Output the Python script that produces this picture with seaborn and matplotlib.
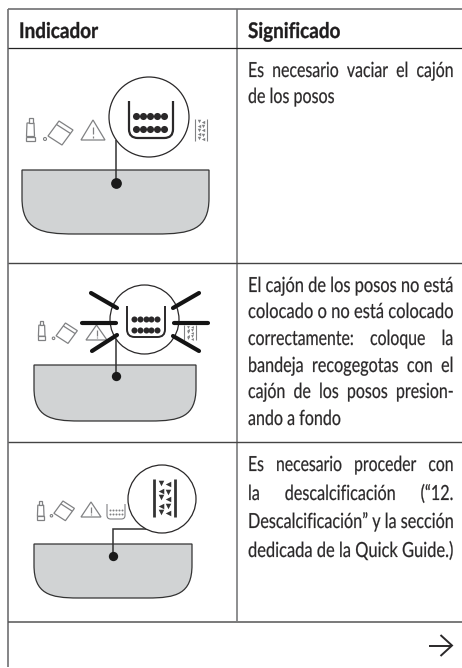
import matplotlib
matplotlib.use('Agg')
import matplotlib.pyplot as plt
import seaborn as sns
from matplotlib.patches import Circle, PathPatch, Polygon
from matplotlib.path import Path
from matplotlib.patheffects import AbstractPathEffect
from matplotlib.text import Text
from matplotlib.transforms import Affine2D, Bbox

# table text
headers = ['Indicador', 'Significado']
header_widths = [79, 92]
row1_lines = ['Es necesario vaciar el cajón', 'de los posos']
row2_lines = ['El cajón de los posos no está', 'colocado o no está colocado',
              'correctamente: coloque la', 'bandeja recogegotas con el',
              'cajón de los posos presion-', 'ando a fondo']
row3_lines = ['Es necesario proceder con', 'la descalcificación (“12.',
              'Descalcificación” y la sección', 'dedicada de la Quick Guide.)']
last_lines = ['de los posos', 'ando a fondo']

row1_base = [77, 103]
row2_base = [292, 318, 345, 372, 398, 425]
row3_base = [471, 500, 528, 557]

DARK = '#2a2829'
LINE = '#6f7072'
ICON = '#808183'
TRAY = '#d1d3d4'
BODY_SIZE = 15
BODY_SQUEEZE = 0.77

sns.set_theme(style='white')
plt.rcParams['font.family'] = ['Lato', 'DejaVu Sans']

fig = plt.figure(figsize=(4.62, 6.68), dpi=100)
ax = fig.add_axes([0, 0, 1, 1])
ax.set_xlim(0, 462)
ax.set_ylim(668, 0)
renderer = fig.canvas.get_renderer()


# no condensed font is installed, so narrow the glyphs when they are drawn
class Squeeze(AbstractPathEffect):
    def __init__(self, sx, x0, stroke):
        super().__init__()
        self.sx = sx
        self.x0 = x0
        self.stroke = stroke

    def draw_path(self, renderer, gc, tpath, affine, rgbFace=None):
        t = affine + Affine2D().translate(-self.x0, 0).scale(self.sx, 1).translate(self.x0, 0)
        gc0 = renderer.new_gc()
        gc0.copy_properties(gc)
        gc0.set_linewidth(self.stroke)
        gc0.set_foreground(rgbFace)
        renderer.draw_path(gc0, tpath, t, rgbFace)
        gc0.restore()


class NarrowText(Text):
    def __init__(self, x, y, s, sx, stroke=0.15, **kw):
        super().__init__(x, y, s, **kw)
        self.sx = sx
        self.set_path_effects([Squeeze(sx, x, stroke)])

    def get_window_extent(self, renderer=None, dpi=None):
        b = super().get_window_extent(renderer, dpi)
        x0 = self.get_position()[0]
        return Bbox([[x0 + (b.x0 - x0) * self.sx, b.y0], [x0 + (b.x1 - x0) * self.sx, b.y1]])


def narrow(x, y, s, sx, ha='left', **kw):
    t = NarrowText(x, y, s, sx, va='baseline', ha=ha, **kw)
    ax.add_artist(t)
    return t


def natural_width(s, **kw):
    t = ax.text(100, 100, s, **kw)
    w = t.get_window_extent(renderer).width
    t.remove()
    return w


def put_lines(lines, bases, left=248, right=454):
    for line, y in zip(lines, bases):
        if line in last_lines:
            narrow(left, y, line, BODY_SQUEEZE, fontsize=BODY_SIZE, color=DARK)
            continue
        # justify: widen the word gaps, then fit the line exactly to the column
        words = line.split(' ')
        best = None
        for n in range(1, 25):
            s = (' ' * n).join(words)
            sx = (right - left) / natural_width(s, fontsize=BODY_SIZE)
            if best is None or abs(sx - BODY_SQUEEZE) < abs(best[1] - BODY_SQUEEZE):
                best = (s, sx)
        narrow(right, y, best[0], best[1], ha='right', fontsize=BODY_SIZE, color=DARK)


def seg(xs, ys, color=DARK, lw=1.0, cap='butt', z=3):
    ax.plot(xs, ys, color=color, lw=lw, solid_capstyle=cap, solid_joinstyle='miter', zorder=z)


def tray(left, right, top, bottom, bend):
    w = right - left
    verts = [(left, top), (left, bend),
             (left, bottom - 4), (left + 0.1 * w, bottom), (left + 0.28 * w, bottom),
             (right - 0.28 * w, bottom),
             (right - 0.1 * w, bottom), (right, bottom - 4), (right, bend),
             (right, top), (left, top)]
    codes = [Path.MOVETO, Path.LINETO, Path.CURVE4, Path.CURVE4, Path.CURVE4, Path.LINETO,
             Path.CURVE4, Path.CURVE4, Path.CURVE4, Path.LINETO, Path.CLOSEPOLY]
    ax.add_patch(PathPatch(Path(verts, codes), fc=TRAY, ec='#333333', lw=0.9, zorder=2))


def tube(x, y, h):
    k = h / 23
    body = [(x + 1 * k, y + 5 * k), (x + 8 * k, y + 5 * k), (x + 8.5 * k, y + 18.5 * k), (x + 0.5 * k, y + 18.5 * k)]
    cap = [(x + 2.5 * k, y), (x + 6.5 * k, y), (x + 6.5 * k, y + 5 * k), (x + 2.5 * k, y + 5 * k)]
    foot = [(x, y + 18.5 * k), (x + 9 * k, y + 18.5 * k), (x + 9 * k, y + h), (x, y + h)]
    for p in (body, cap, foot):
        ax.add_patch(Polygon(p, closed=True, fc='white', ec=ICON, lw=0.9, zorder=3))


def pitcher(x, y, k):
    box = [(6, 15), (17, 0), (31, 9), (20, 24)]
    ax.add_patch(Polygon([(x + k * a, y + k * b) for a, b in box], closed=True,
                         fc='white', ec=ICON, lw=0.9, zorder=3))
    seg([x + k * 14.5, x + k * 28.5], [y + k * 3.5, y + k * 12.5], color=ICON, lw=0.9)
    ax.add_patch(Circle((x + k * 3, y + k * 18), 1.5 * k, fc='white', ec=ICON, lw=0.8, zorder=3))


def warning(x, y, w, h):
    ax.add_patch(Polygon([(x + w / 2, y), (x + w, y + h), (x, y + h)], closed=True,
                         fc='white', ec=ICON, lw=0.9, zorder=3))
    seg([x + w / 2, x + w / 2], [y + 0.35 * h, y + 0.72 * h], color=ICON, lw=0.9, z=4)
    seg([x + w / 2, x + w / 2], [y + 0.8 * h, y + 0.88 * h], color=ICON, lw=0.9, z=4)


def bin_icon(left, right, top, bottom, rows, first, last, lw, size, color=DARK):
    r = 0.2 * (right - left)
    verts = [(left, top), (left, bottom - r), (left, bottom), (left + r, bottom),
             (right - r, bottom), (right, bottom), (right, bottom - r), (right, top)]
    codes = [Path.MOVETO, Path.LINETO, Path.CURVE3, Path.CURVE3, Path.LINETO,
             Path.CURVE3, Path.CURVE3, Path.LINETO]
    ax.add_patch(PathPatch(Path(verts, codes), fc='none', ec=color, lw=lw, zorder=5))
    step = (last - first) / 4
    xs = [first + i * step for i in range(5) for _ in rows]
    ys = [rv for _ in range(5) for rv in rows]
    sns.scatterplot(x=xs, y=ys, s=size, color=color, linewidth=0, legend=False, ax=ax, zorder=5)


def scale_icon(left, right, top, bottom, lw, size, color):
    seg([left, left], [top, bottom], color=color, lw=lw, z=5)
    seg([right, right], [top, bottom], color=color, lw=lw, z=5)
    w = right - left
    h = bottom - top
    for i in range(5):
        yy = top + h * (0.1 + 0.19 * i)
        sns.scatterplot(x=[left + 0.36 * w], y=[yy + (i % 2) * 0.03 * h], s=size, marker='v' if i % 2 == 0 else '<',
                        color=color, linewidth=0, legend=False, ax=ax, zorder=5)
        sns.scatterplot(x=[left + 0.68 * w], y=[yy + 0.04 * h], s=size, marker='<' if i % 2 == 0 else 'v',
                        color=color, linewidth=0, legend=False, ax=ax, zorder=5)


def callout(x, y, r):
    ax.add_patch(Circle((x, y), r, fc='white', ec=DARK, lw=0.9, zorder=4))


def dot(x, y, s=55):
    sns.scatterplot(x=[x], y=[y], s=s, color='#1a1a1a', linewidth=0, legend=False, ax=ax, zorder=6)


# grid of the table
seg([8, 8], [9, 667], color=LINE, lw=1.2)
seg([237, 237], [9, 621], color=LINE, lw=1.1)
seg([8, 462], [9, 9], color=LINE, lw=1.2)
seg([8, 462], [48, 48], color='#222222', lw=0.9)
seg([8, 462], [263, 263], color='#444444', lw=1.0)
seg([8, 462], [442, 442], color='#444444', lw=1.0)
seg([8, 462], [621.5, 621.5], color='#555555', lw=1.1)

# headers
for x, label, target in zip([19, 248], headers, header_widths):
    sx = target / natural_width(label, fontsize=15.5, fontweight='bold')
    narrow(x, 38, label, sx, stroke=0.25, fontsize=15.5, fontweight='bold', color='#1f1d1e')

put_lines(row1_lines, row1_base)
put_lines(row2_lines, row2_base)
put_lines(row3_lines, row3_base)

# row 1 icon
tube(26, 118, 23)
pitcher(42, 121, 1.0)
warning(81, 120, 24, 20)
scale_icon(195, 207, 119, 141, 0.8, 6, ICON)
tray(22, 209, 170, 234, 198)
seg([116, 116], [140, 183], color='#333333', lw=1.1)
dot(116, 183, 60)
callout(149, 117, 40)
bin_icon(129, 173, 101, 138, [116, 129], 136, 164, 1.6, 26)

# row 2 icon
tube(38, 321, 19)
pitcher(51, 323, 0.85)
warning(86, 325, 21, 15)
scale_icon(184, 196, 325, 340, 0.8, 4, ICON)
tray(34, 196, 365, 421, 388)
seg([116, 116], [338, 376], color='#333333', lw=1.1)
dot(116, 376, 45)
callout(144.5, 319.5, 34.5)
bin_icon(127, 165, 306, 337, [319, 330], 134, 157, 1.4, 19)
ray_x = [(91, 117), (199, 173), (82, 116), (208, 174), (92, 117), (199, 173)]
ray_y = [(293, 308), (293, 308), (323, 323), (323, 323), (351, 335), (351, 336)]
for xs, ys in zip(ray_x, ray_y):
    seg(xs, ys, color='#141414', lw=3.0, cap='round', z=7)

# row 3 icon
tube(37, 501, 19)
pitcher(49, 501, 0.82)
warning(81, 502, 20, 15)
bin_icon(107, 125, 504, 519, [510, 514], 110, 122, 0.8, 2, color=ICON)
tray(34, 192, 544, 598, 565)
seg([113, 113, 147], [556, 529, 529], color='#333333', lw=1.1)
dot(113, 556, 45)
callout(162, 499, 34)
scale_icon(153.5, 175, 479, 517, 2.0, 16, '#333333')

# arrow at the bottom right
seg([429, 452], [645.5, 645.5], color=DARK, lw=1.4)
seg([440.5, 452, 440.5], [635, 645.5, 656], color=DARK, lw=1.4)

ax.set_xlim(0, 462)
ax.set_ylim(668, 0)
ax.axis('off')
fig.savefig('out.png', dpi=100)
